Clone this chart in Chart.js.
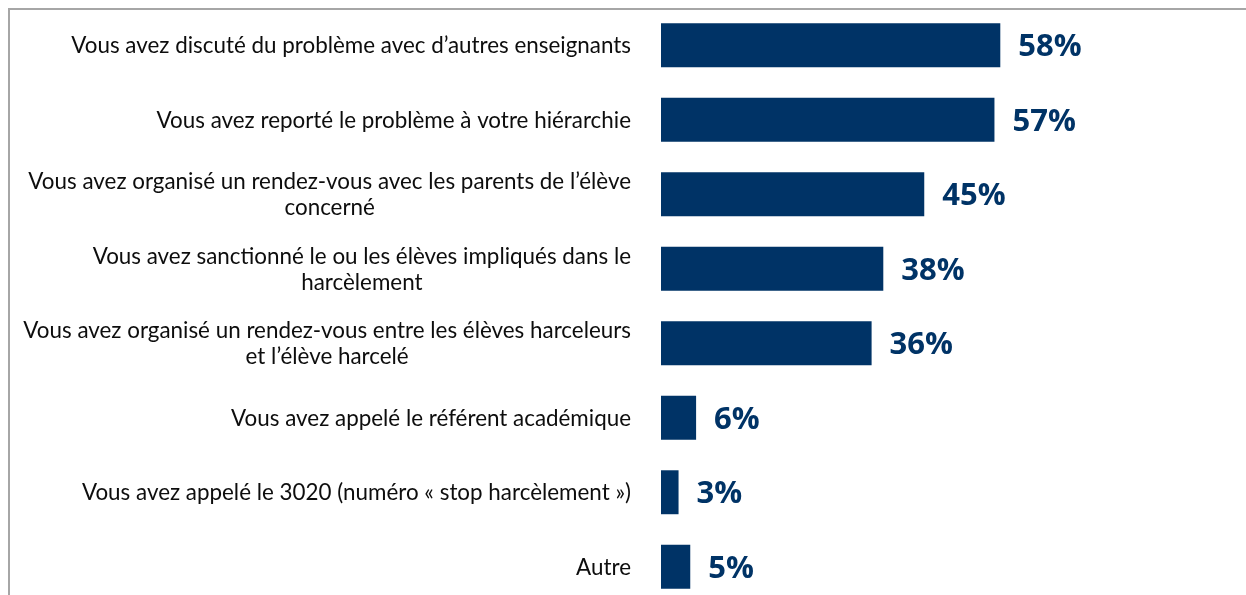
<!DOCTYPE html>
<html>
<head>
<meta charset="utf-8">
<script src="https://cdn.jsdelivr.net/npm/chart.js@4.4.1/dist/chart.umd.min.js"></script>
<style>
  html, body { margin: 0; padding: 0; background: #fff; overflow: hidden; }
  #wrap { position: relative; width: 1246px; height: 595px; overflow: hidden; }
  #frame { position: absolute; left: 8px; top: 8px; right: -10px; bottom: -10px;
           border-top: 2px solid #a6a6a6; border-left: 2px solid #a6a6a6; pointer-events: none; }
  canvas { position: absolute; left: 0; top: 0; }
</style>
</head>
<body>
<div id="wrap">
  <canvas id="c" width="1246" height="612"></canvas>
  <div id="frame"></div>
</div>
<script>
const categories = [
  ["Vous avez discuté du problème avec d’autres enseignants"],
  ["Vous avez reporté le problème à votre hiérarchie"],
  ["Vous avez organisé un rendez-vous avec les parents de l’élève", "concerné"],
  ["Vous avez sanctionné le ou les élèves impliqués dans le", "harcèlement"],
  ["Vous avez organisé un rendez-vous entre les élèves harceleurs", "et l’élève harcelé"],
  ["Vous avez appelé le référent académique"],
  ["Vous avez appelé le 3020 (numéro « stop harcèlement »)"],
  ["Autre"]
];
const values = [58, 57, 45, 38, 36, 6, 3, 5];
const valueLabels = ["58%", "57%", "45%", "38%", "36%", "6%", "3%", "5%"];

const BAR_COLOR = "#003366";
const LABEL_FONT = "22.4px Lato";
const VALUE_FONT = "bold 31px 'Open Sans'";

const catLabelsPlugin = {
  id: "catLabels",
  afterDraw(chart) {
    const ctx = chart.ctx;
    const y = chart.scales.y;
    ctx.save();
    ctx.font = LABEL_FONT;
    ctx.fillStyle = "#0d0d0d";
    ctx.textAlign = "center";
    ctx.textBaseline = "middle";
    const right = 631, lh = 26;
    categories.forEach((lines, i) => {
      const cy = y.getPixelForValue(i);
      const w = Math.max(...lines.map(l => ctx.measureText(l).width));
      const cx = right - w / 2;
      const top = cy - (lines.length - 1) * lh / 2 + 1;
      lines.forEach((l, k) => ctx.fillText(l, cx, top + k * lh));
    });
    ctx.restore();
  }
};

const valueLabelsPlugin = {
  id: "valueLabels",
  afterDatasetsDraw(chart) {
    const ctx = chart.ctx;
    const meta = chart.getDatasetMeta(0);
    ctx.save();
    ctx.font = VALUE_FONT;
    ctx.fillStyle = BAR_COLOR;
    ctx.textAlign = "left";
    ctx.textBaseline = "middle";
    meta.data.forEach((bar, i) => {
      ctx.fillText(valueLabels[i], bar.x + 18, bar.y + 2);
    });
    ctx.restore();
  }
};

new Chart(document.getElementById("c"), {
  type: "bar",
  data: {
    labels: categories.map(c => c.join(" ")),
    datasets: [{
      data: values,
      backgroundColor: BAR_COLOR,
      borderWidth: 0,
      categoryPercentage: 1,
      barPercentage: 0.59
    }]
  },
  options: {
    indexAxis: "y",
    responsive: false,
    animation: false,
    layout: { padding: { left: 661, right: 0, top: 8, bottom: 8 } },
    plugins: { legend: { display: false }, tooltip: { enabled: false } },
    scales: {
      x: { display: false, min: 0, max: 100 },
      y: { display: false }
    }
  },
  plugins: [catLabelsPlugin, valueLabelsPlugin]
});
</script>
</body>
</html>
